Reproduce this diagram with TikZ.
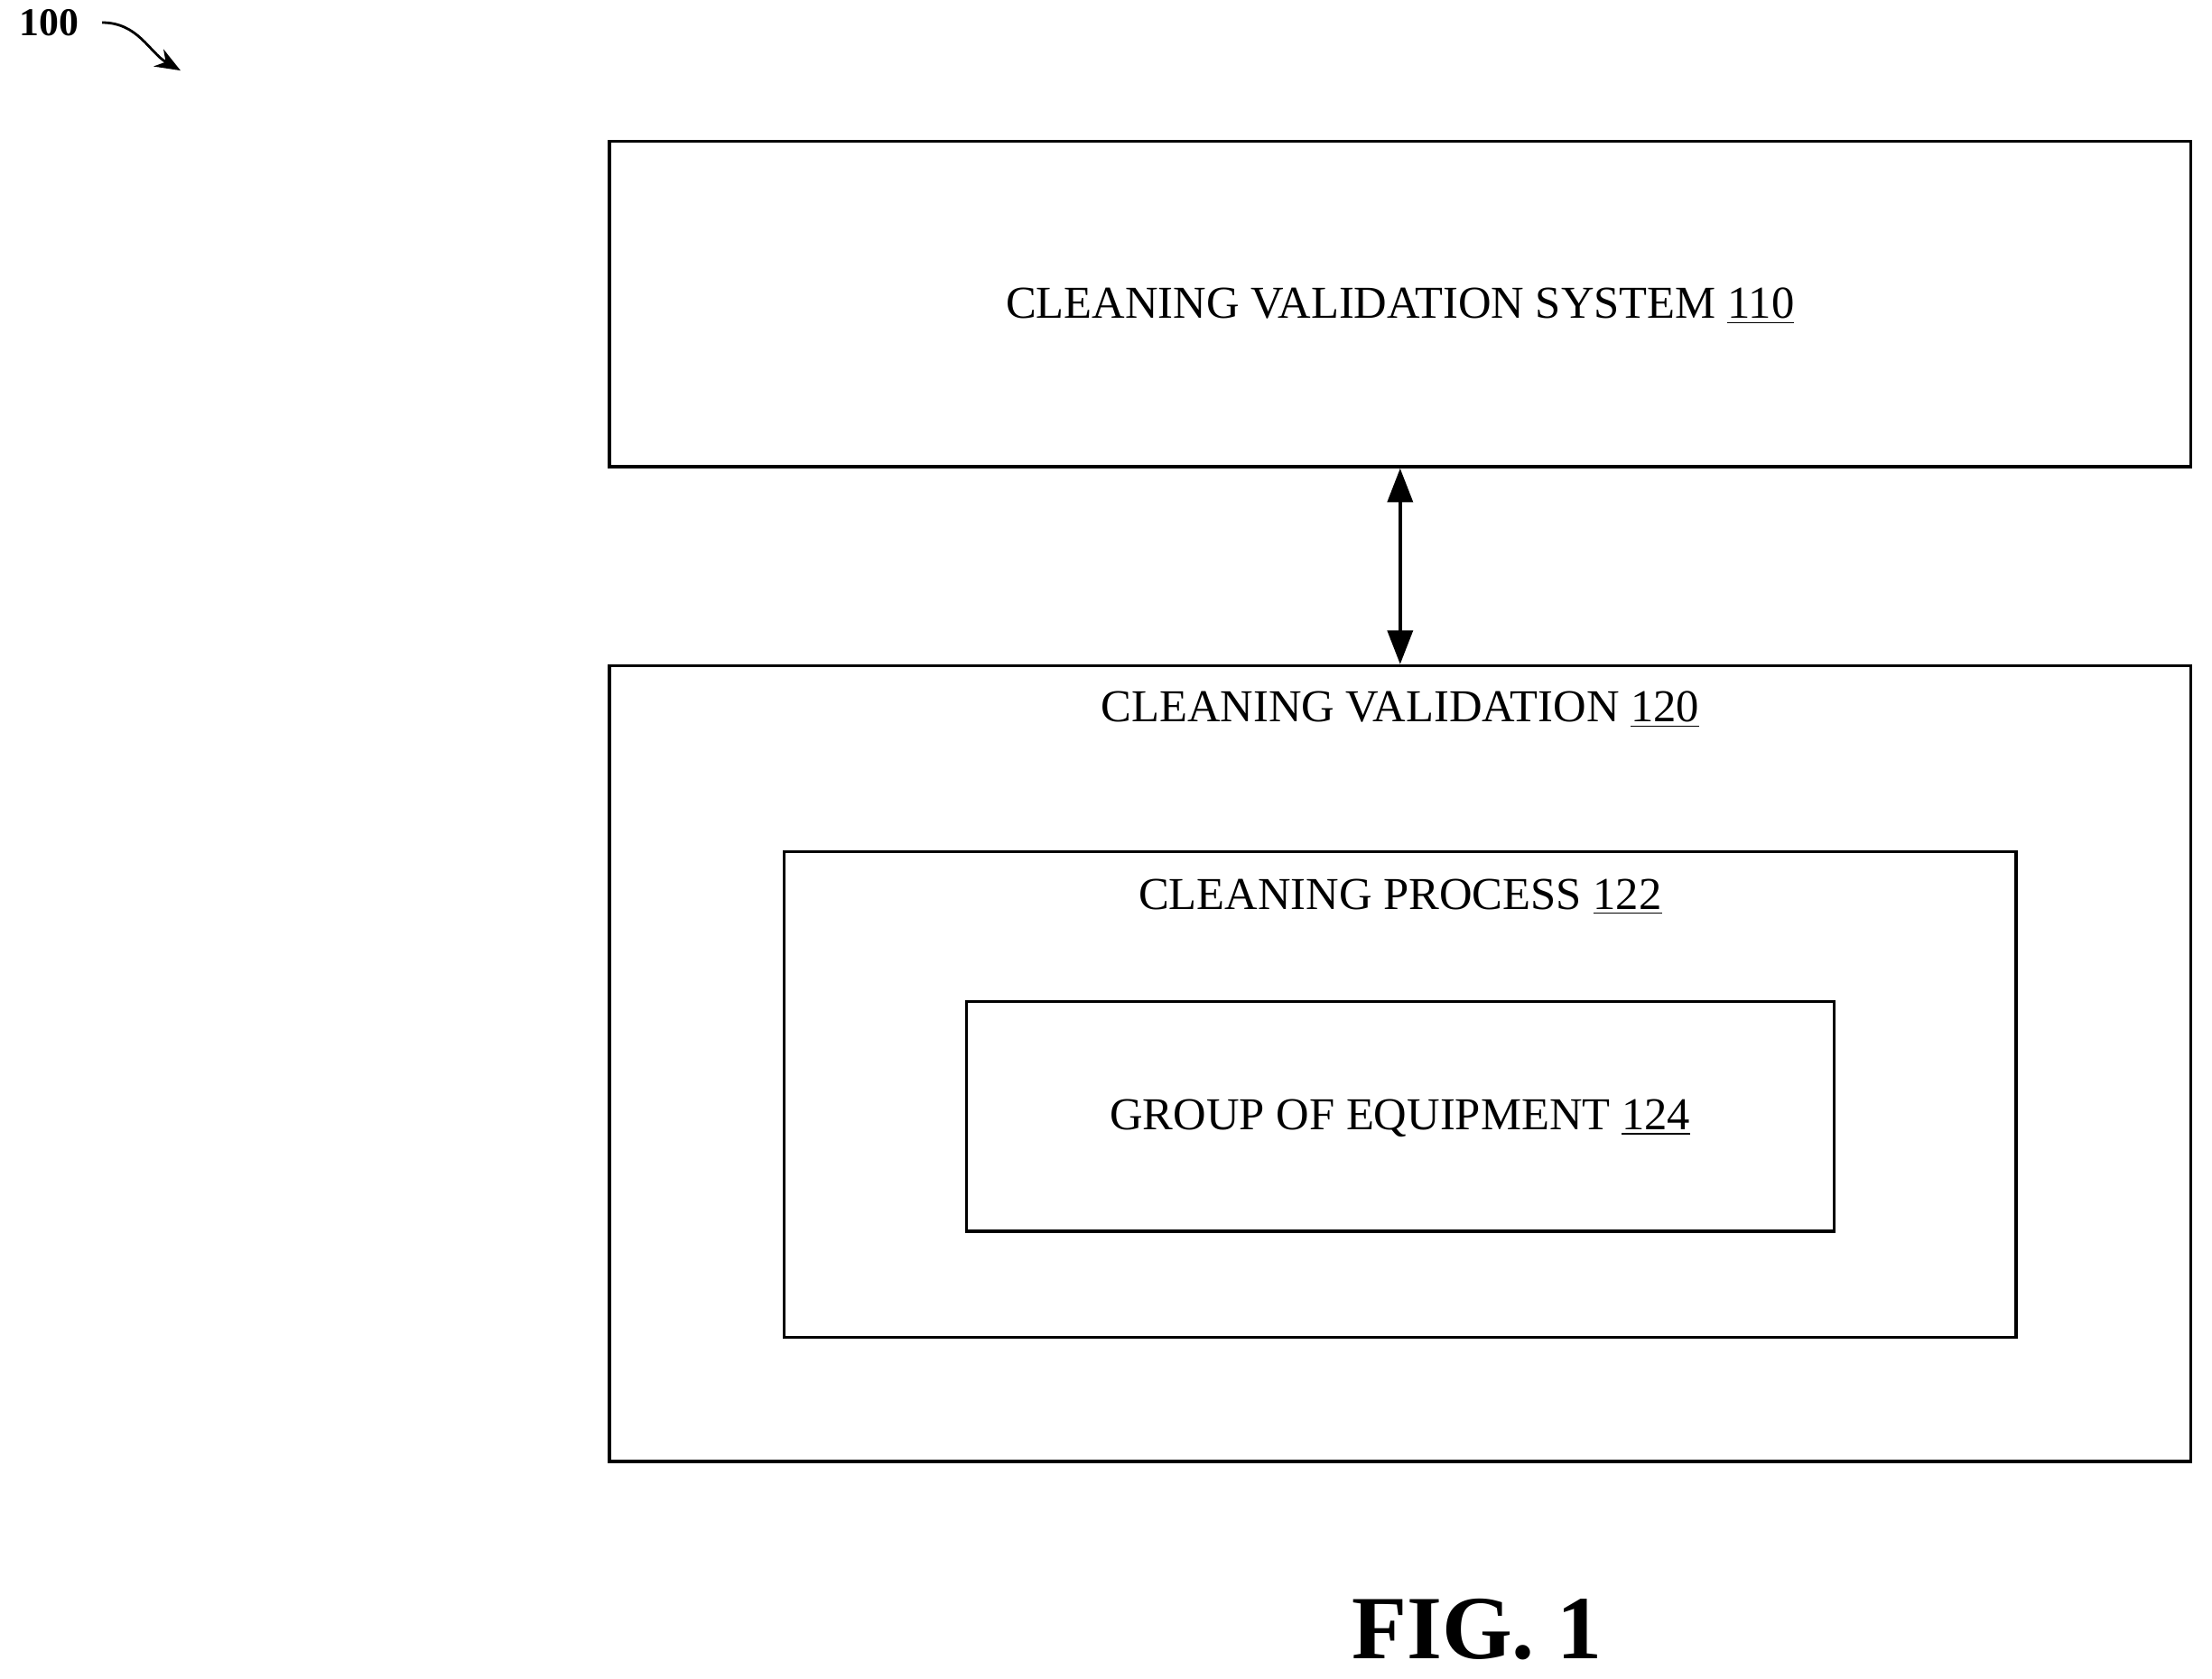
\documentclass[tikz,border=0pt]{standalone}
\usepackage{fontspec}
\setmainfont{Liberation Serif}
\usetikzlibrary{arrows.meta}
\begin{document}
\begin{tikzpicture}[x=0.5pt, y=-0.5pt,
	box/.style={draw, line width=1.1pt, rectangle, inner sep=0pt},
	lbl/.style={font=\fontsize{16.2}{19}\selectfont, inner sep=0pt}]
	\useasboundingbox (0,0) rectangle (1568,1190);
	% outer blocks
	\node[box, minimum width=560.5pt, minimum height=115.5pt] (sys) at (992.5,215.5) {};
	\node[box, minimum width=560.5pt, minimum height=282pt] (val) at (992.5,754) {};
	\node[box, minimum width=436.5pt, minimum height=172pt] (proc) at (992.5,776) {};
	\node[box, minimum width=307.5pt, minimum height=81.5pt] (equip) at (992.5,791.5) {};
	% labels
	\node[lbl] (sysl) at (992.5,217) {CLEANING VALIDATION SYSTEM \underline{110}};
	\node[lbl] (vall) at (992.5,503) {CLEANING VALIDATION \underline{120}};
	\node[lbl] (procl) at (992.5,636) {CLEANING PROCESS \underline{122}};
	\node[lbl] (equipl) at (992.5,793) {GROUP OF EQUIPMENT \underline{124}};
	\draw[line width=1.1pt, {Triangle[length=12pt,width=9pt]}-{Triangle[length=12pt,width=9pt]}] (sys.south) -- (val.north);
	% figure marks
	\node[font=\fontsize{14}{16}\selectfont\bfseries, inner sep=0pt] (ref) at (35,16) {100};
	\coordinate (reftip) at (128,50);
	\draw[line width=0.9pt, -{Stealth[length=9pt,width=7pt]}] (ref.east) ++(8pt,0) to[out=0, in=150] (reftip);
	\node[font=\fontsize{32}{34}\selectfont\bfseries, inner sep=0pt] (fig) at (1047,1155) {FIG. 1};
\end{tikzpicture}
\end{document}
